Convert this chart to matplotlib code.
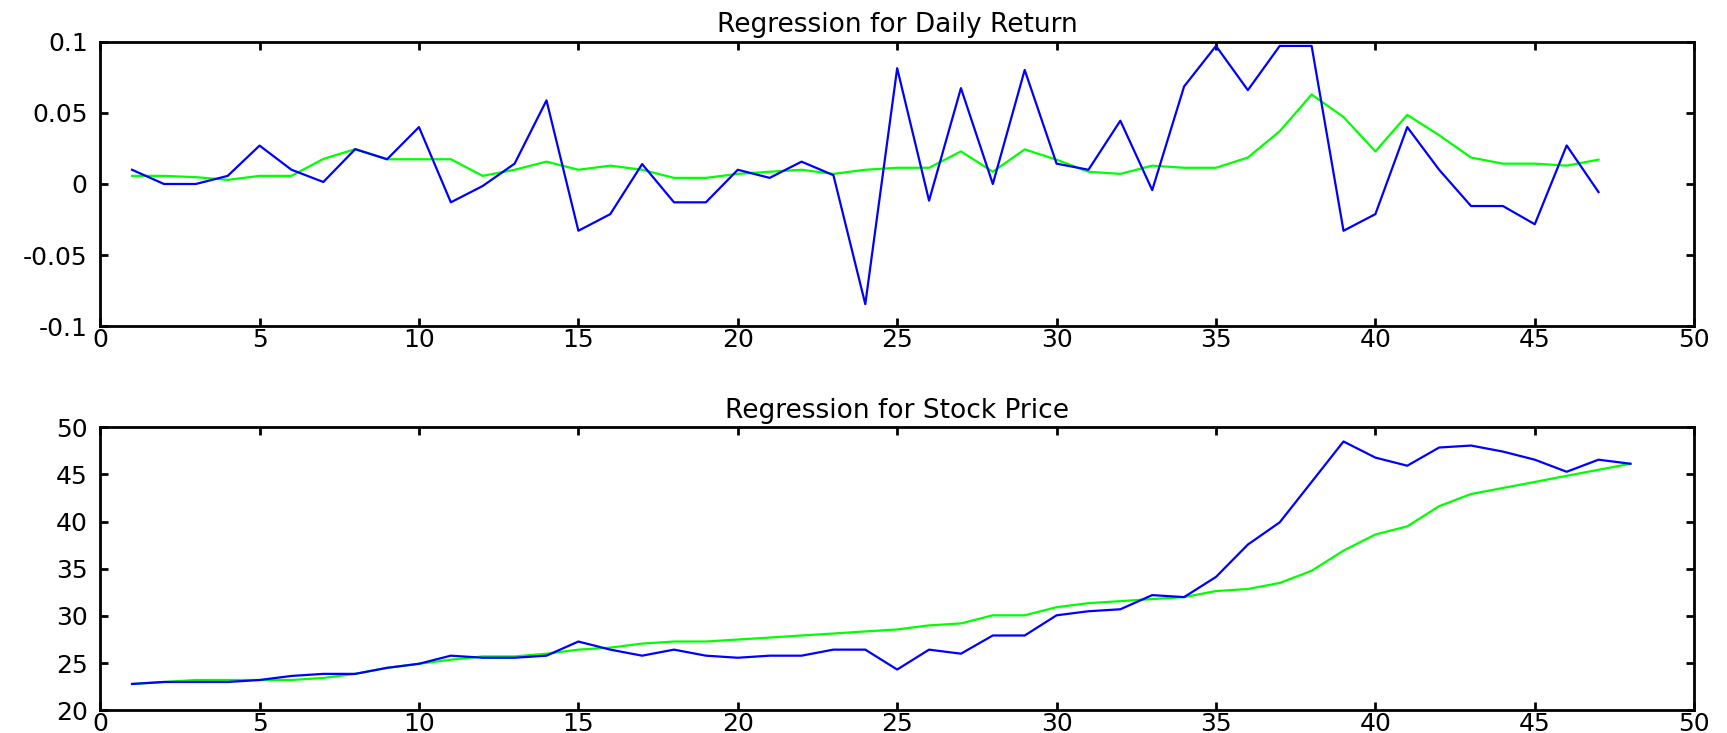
import numpy as np
import matplotlib
matplotlib.use('Agg')
import matplotlib.pyplot as plt

plt.rcParams['font.family'] = ['DejaVu Sans']

# daily return: actual vs regression fit
ret_days = list(range(1, 48))
ret_actual = [0.010, 0.000, 0.000, 0.0057, 0.027, 0.010, 0.0014, 0.0245, 0.0174, 0.040,
              -0.0129, -0.0014, 0.0143, 0.0588, -0.0329, -0.0212, 0.0140, -0.0129, -0.0129, 0.010,
              0.0043, 0.0157, 0.0062, -0.0845, 0.0814, -0.0117, 0.0674, 0.000, 0.0802, 0.0143,
              0.010, 0.0445, -0.0043, 0.0686, 0.0971, 0.066, 0.0971, 0.0971, -0.0329, -0.0212,
              0.040, 0.010, -0.0155, -0.0155, -0.0283, 0.0271, -0.0057]
ret_fit = [0.0057, 0.0057, 0.0048, 0.0029, 0.0057, 0.0057, 0.0176, 0.0245, 0.0174, 0.0174,
           0.0174, 0.0057, 0.010, 0.0157, 0.010, 0.0129, 0.010, 0.0043, 0.0043, 0.0071,
           0.0086, 0.010, 0.0071, 0.010, 0.0114, 0.0114, 0.0229, 0.0086, 0.0243, 0.0171,
           0.0086, 0.0071, 0.0129, 0.0114, 0.0114, 0.0186, 0.0371, 0.0629, 0.0471, 0.0229,
           0.0486, 0.0343, 0.0186, 0.0143, 0.0143, 0.0129, 0.0171]

# stock price: actual vs regression fit
px_days = list(range(1, 49))
px_actual = [22.79, 23.0, 23.0, 23.0, 23.21, 23.64, 23.86, 23.86, 24.5, 24.93,
             25.79, 25.57, 25.57, 25.79, 27.29, 26.43, 25.79, 26.43, 25.79, 25.57,
             25.79, 25.79, 26.43, 26.43, 24.32, 26.43, 26.0, 27.93, 27.93, 30.07,
             30.5, 30.71, 32.21, 32.0, 34.14, 37.57, 39.93, 44.21, 48.5, 46.79,
             45.93, 47.86, 48.07, 47.43, 46.57, 45.29, 46.57, 46.14]
px_fit = [22.79, 23.0, 23.21, 23.21, 23.21, 23.21, 23.43, 23.86, 24.5, 24.93,
          25.36, 25.71, 25.71, 26.0, 26.43, 26.64, 27.07, 27.29, 27.29, 27.5,
          27.71, 27.93, 28.14, 28.36, 28.57, 29.0, 29.21, 30.07, 30.07, 30.93,
          31.36, 31.57, 31.79, 32.0, 32.64, 32.86, 33.5, 34.79, 36.93, 38.64,
          39.5, 41.64, 42.93, 43.57, 44.21, 44.86, 45.5, 46.14]


def style_axes(ax):
  for s in ax.spines.values():
    s.set_linewidth(2)
  ax.tick_params(direction='in', top=True, right=True, length=6, width=2,
                 labelsize=18)
  ax.tick_params(axis='y', pad=9)
  ax.tick_params(axis='x', pad=1)
  ax.set_xlim(0, 50)
  ax.set_xticks(np.arange(0, 51, 5))


fig = plt.figure(figsize=(17.27, 7.33), dpi=100)
ax1 = fig.add_axes([0.058, 0.555, 0.923, 0.388])
ax2 = fig.add_axes([0.058, 0.031, 0.923, 0.386])

ax1.plot(ret_days, ret_fit, color=(0, 1, 0), lw=1.6)
ax1.plot(ret_days, ret_actual, color=(0, 0, 1), lw=1.6)
ax1.set_ylim(-0.1, 0.1)
ax1.set_yticks([-0.1, -0.05, 0, 0.05, 0.1])
ax1.set_yticklabels(['-0.1', '-0.05', '0', '0.05', '0.1'])
ax1.set_title('Regression for Daily Return', fontsize=19, pad=7)
style_axes(ax1)

ax2.plot(px_days, px_fit, color=(0, 1, 0), lw=1.6)
ax2.plot(px_days, px_actual, color=(0, 0, 1), lw=1.6)
ax2.set_ylim(20, 50)
ax2.set_yticks(np.arange(20, 51, 5))
ax2.set_title('Regression for Stock Price', fontsize=19, pad=7)
style_axes(ax2)

fig.savefig('out.png', dpi=100)
